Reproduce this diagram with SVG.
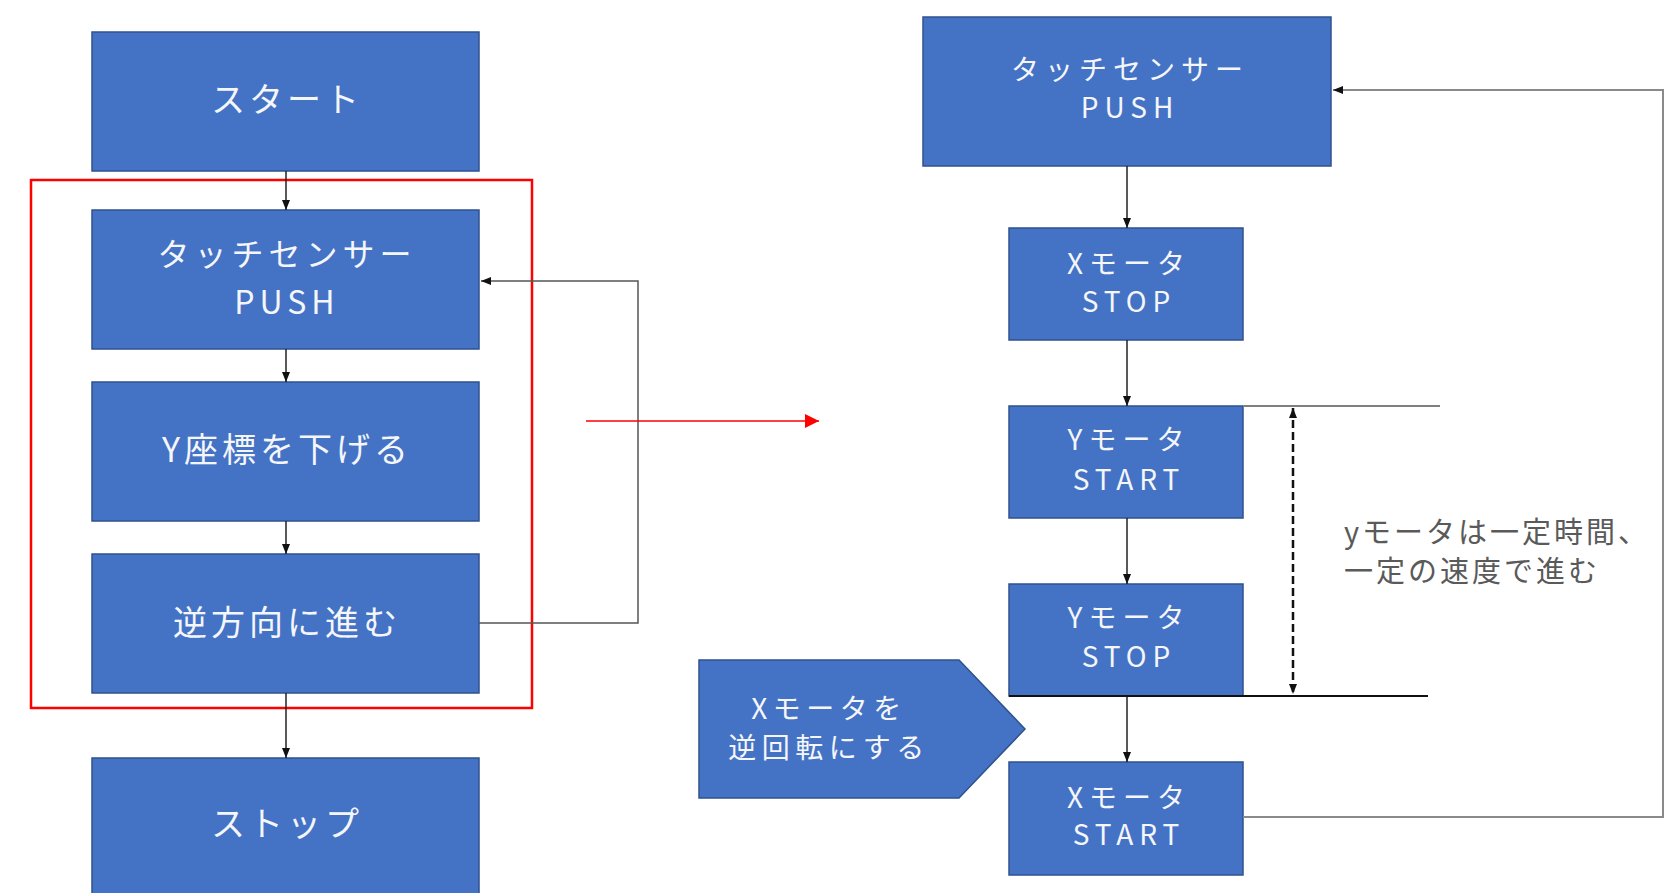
<svg xmlns="http://www.w3.org/2000/svg" width="1675" height="893" viewBox="0 0 1675 893">
  <style>
    .box { fill: #4472C4; stroke: #2F528F; stroke-width: 1.5; }
    .lbl { font-family: "Noto Sans CJK JP", "Liberation Sans", sans-serif; fill: #F4F6FA; text-anchor: middle; }
    .big { font-size: 34px; letter-spacing: 4px; }
    .mid { font-size: 32px; letter-spacing: 5px; }
    .small { font-size: 28px; letter-spacing: 6px; }
    .note { font-family: "Noto Sans CJK JP", "Liberation Sans", sans-serif; font-size: 29px; letter-spacing: 3px; fill: #5A5A5A; }
    .flow { fill: none; stroke: #222; stroke-width: 1.5; }
    .loop { fill: none; stroke: #555; stroke-width: 1.5; }
    .loopR { fill: none; stroke: #8A8A8A; stroke-width: 2; }
  </style>
  <defs>
    <marker id="arr" viewBox="0 0 10 8" refX="10" refY="4" markerWidth="10" markerHeight="8" markerUnits="userSpaceOnUse" orient="auto">
      <path d="M0,0 L10,4 L0,8 Z" fill="#111"/>
    </marker>
    <marker id="arrRed" viewBox="0 0 12 12" refX="12" refY="6" markerWidth="14" markerHeight="14" markerUnits="userSpaceOnUse" orient="auto">
      <path d="M0,0 L12,6 L0,12 Z" fill="#FF0000"/>
    </marker>
    <marker id="arrD" viewBox="0 0 10 8" refX="10" refY="4" markerWidth="10" markerHeight="9" markerUnits="userSpaceOnUse" orient="auto-start-reverse">
      <path d="M0,0 L10,4 L0,8 Z" fill="#111"/>
    </marker>
  </defs>

  <rect width="1675" height="893" fill="#FFFFFF"/>

  <!-- left flow -->
  <g id="start">
    <rect class="box" x="92" y="32" width="387" height="139"/>
    <text class="lbl big" x="287" y="112">スタート</text>
  </g>
  <g id="touch-left">
    <rect class="box" x="92" y="210" width="387" height="139"/>
    <text class="lbl mid" x="287" y="266">タッチセンサー</text>
    <text class="lbl mid" x="287" y="314">PUSH</text>
  </g>
  <g id="lower-y">
    <rect class="box" x="92" y="382" width="387" height="139"/>
    <text class="lbl big" x="287" y="462">Y座標を下げる</text>
  </g>
  <g id="reverse">
    <rect class="box" x="92" y="554" width="387" height="139"/>
    <text class="lbl big" x="287" y="635">逆方向に進む</text>
  </g>
  <g id="stop">
    <rect class="box" x="92" y="758" width="387" height="145"/>
    <text class="lbl big" x="287" y="836">ストップ</text>
  </g>

  <!-- highlighted loop frame -->
  <g id="highlight">
    <rect x="31" y="180" width="501" height="528" fill="none" stroke="#FF0000" stroke-width="2.5"/>
  </g>

  <!-- right flow -->
  <g id="touch-right">
    <rect class="box" x="923" y="17" width="408" height="149"/>
    <text class="lbl small" x="1130" y="80">タッチセンサー</text>
    <text class="lbl small" x="1130" y="118">PUSH</text>
  </g>
  <g id="xmotor-stop">
    <rect class="box" x="1009" y="228" width="234" height="112"/>
    <text class="lbl small" x="1129" y="274">Xモータ</text>
    <text class="lbl small" x="1129" y="312">STOP</text>
  </g>
  <g id="ymotor-start">
    <rect class="box" x="1009" y="406" width="234" height="112"/>
    <text class="lbl small" x="1129" y="450">Yモータ</text>
    <text class="lbl small" x="1129" y="490">START</text>
  </g>
  <g id="ymotor-stop">
    <rect class="box" x="1009" y="584" width="234" height="112"/>
    <text class="lbl small" x="1129" y="628">Yモータ</text>
    <text class="lbl small" x="1129" y="667">STOP</text>
  </g>
  <g id="xmotor-start">
    <rect class="box" x="1009" y="762" width="234" height="113"/>
    <text class="lbl small" x="1129" y="808">Xモータ</text>
    <text class="lbl small" x="1129" y="845">START</text>
  </g>
  <g id="xmotor-reverse">
    <path class="box" d="M699,660 L959,660 L1025,729 L959,798 L699,798 Z"/>
    <text class="lbl small" x="829" y="719" style="letter-spacing:5.5px">Xモータを</text>
    <text class="lbl small" x="829" y="758" style="letter-spacing:5.5px">逆回転にする</text>
  </g>

  <g id="note">
    <text class="note" x="1344" y="543">yモータは一定時間、</text>
    <text class="note" x="1344" y="582">一定の速度で進む</text>
  </g>

  <!-- connectors -->
  <g id="connectors">
    <line class="flow" x1="286" y1="171" x2="286" y2="210" marker-end="url(#arr)"/>
    <line class="flow" x1="286" y1="349" x2="286" y2="382" marker-end="url(#arr)"/>
    <line class="flow" x1="286" y1="521" x2="286" y2="554" marker-end="url(#arr)"/>
    <line class="flow" x1="286" y1="693" x2="286" y2="758" marker-end="url(#arr)"/>
    <path class="loop" d="M479,623 H638 V281 H481" marker-end="url(#arr)"/>

    <line x1="586" y1="421" x2="819" y2="421" stroke="#FF0000" stroke-width="1.5" marker-end="url(#arrRed)"/>

    <line class="flow" x1="1127" y1="166" x2="1127" y2="228" marker-end="url(#arr)"/>
    <line class="flow" x1="1127" y1="340" x2="1127" y2="406" marker-end="url(#arr)"/>
    <line class="flow" x1="1127" y1="518" x2="1127" y2="584" marker-end="url(#arr)"/>
    <line class="flow" x1="1127" y1="696" x2="1127" y2="762" marker-end="url(#arr)"/>
    <path class="loopR" d="M1243,817 H1663 V90 H1333" marker-end="url(#arr)"/>

    <!-- timing span markers -->
    <line x1="1243" y1="406" x2="1440" y2="406" stroke="#808080" stroke-width="2"/>
    <line x1="1009" y1="696" x2="1428" y2="696" stroke="#111" stroke-width="2"/>
    <line x1="1293" y1="408" x2="1293" y2="694" stroke="#111" stroke-width="2.5" stroke-dasharray="8 4" marker-start="url(#arrD)" marker-end="url(#arrD)"/>
  </g>
</svg>
